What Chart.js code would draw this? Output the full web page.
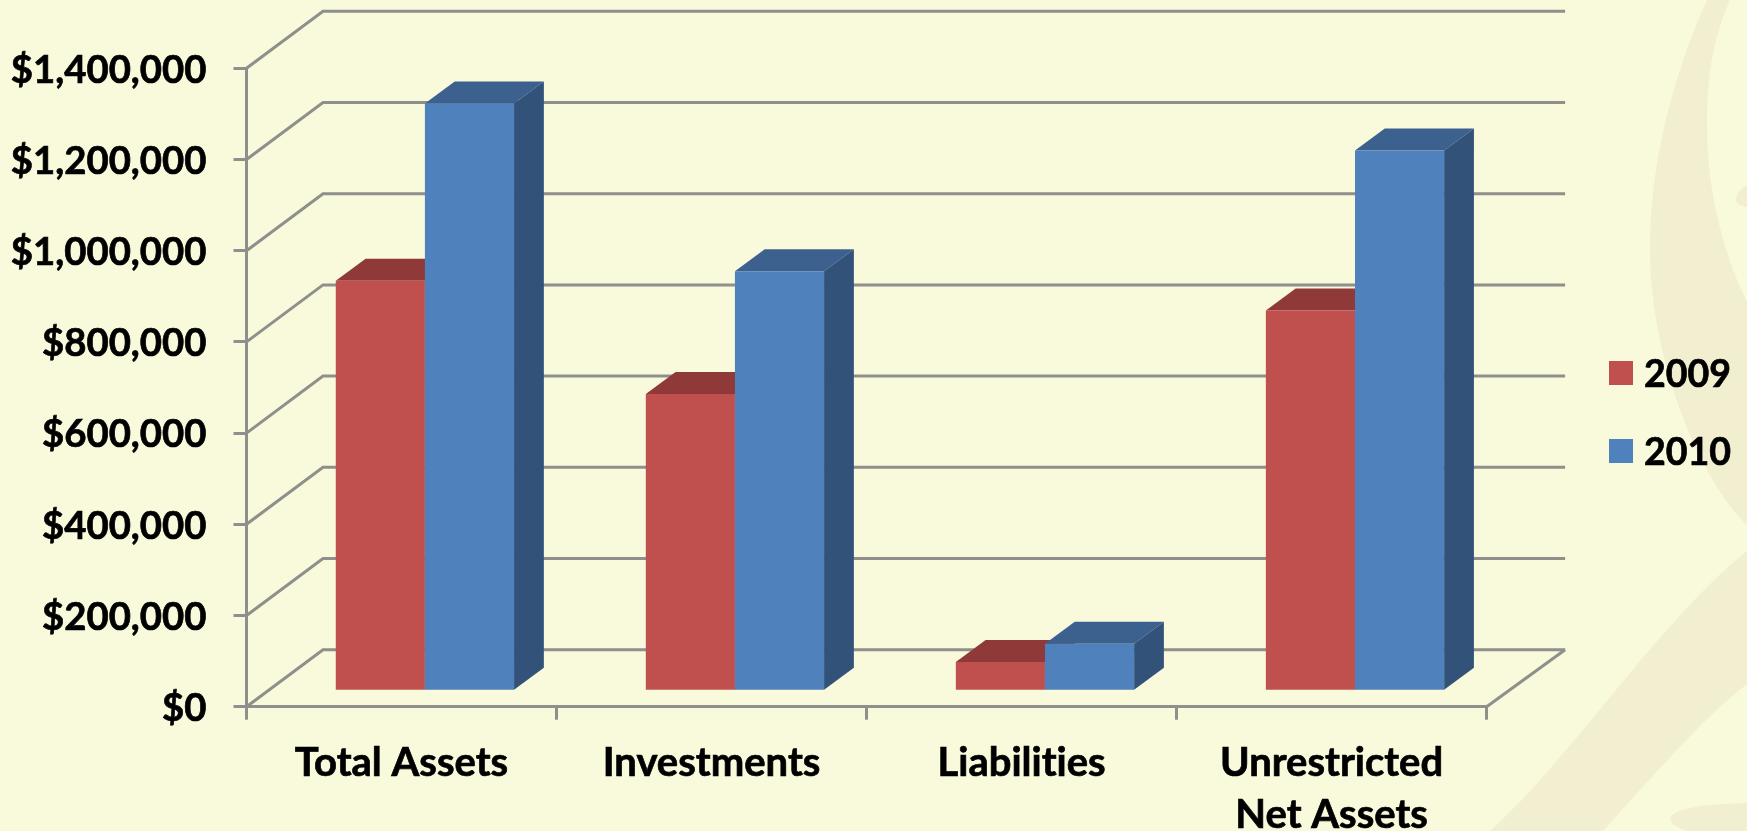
<!DOCTYPE html>
<html>
<head>
<meta charset="utf-8">
<title>Total Assets 2009 / 2010</title>
<script src="https://cdn.jsdelivr.net/npm/chart.js@4/dist/chart.umd.min.js"></script>
<style>
  html, body { margin: 0; padding: 0; background: #F9F9DC; overflow: hidden; }
  #wrap { width: 1747px; height: 831px; }
</style>
</head>
<body>
<div id="wrap"><canvas id="chart" width="1747" height="831"></canvas></div>
<script>
// Values
const categories = ['Total Assets', 'Investments', 'Liabilities', ['Unrestricted', 'Net Assets']];
const seriesNames = ['2009', '2010'];
const values2009 = [900000, 652000, 64000, 835000];
const values2010 = [1289000, 921000, 104000, 1186000];

const GREY = '#8F8F8B';

// colours for the fake 3D faces
const RED = { front: '#C0504D', top: '#8F3A38', side: '#7F3230' };
const BLUE = { front: '#4F81BD', top: '#3C618F', side: '#325279' };

// depth of the floor and of the bars
const wallDx = 76.5, wallDy = -57;
const barDx = 29.8, barDy = -22;
// bars sit a bit inside the floor
const barOffX = 23.4, barOffY = -15.5;

// faint swirl of the slide background
const backgroundPlugin = {
    id: 'slideBackground',
    beforeDraw(chart) {
        const ctx = chart.ctx;
        // a tiny spacing keeps Lato from joining "ti" into a ligature
        ctx.letterSpacing = '0.01px';
        ctx.save();
        ctx.fillStyle = '#F9F9DC';
        ctx.fillRect(0, 0, chart.width, chart.height);
        ctx.fillStyle = '#F2EFD0';

        ctx.beginPath();
        ctx.moveTo(1707, 0);
        ctx.bezierCurveTo(1680, 60, 1650, 150, 1650, 249);
        ctx.bezierCurveTo(1650, 360, 1700, 480, 1747, 525);
        ctx.lineTo(1747, 302);
        ctx.bezierCurveTo(1722, 250, 1707, 190, 1707, 122);
        ctx.bezierCurveTo(1707, 80, 1712, 40, 1730, 0);
        ctx.closePath();
        ctx.fill();

        ctx.beginPath();
        ctx.moveTo(1747, 551);
        ctx.bezierCurveTo(1660, 620, 1570, 760, 1490, 831);
        ctx.lineTo(1603, 831);
        ctx.bezierCurveTo(1650, 780, 1700, 720, 1747, 684);
        ctx.closePath();
        ctx.fill();

        ctx.beginPath();
        ctx.moveTo(1747, 803);
        ctx.bezierCurveTo(1710, 804, 1670, 808, 1670, 819);
        ctx.quadraticCurveTo(1672, 826, 1687, 831);
        ctx.lineTo(1747, 831);
        ctx.closePath();
        ctx.fill();

        ctx.beginPath();
        ctx.moveTo(1747, 185);
        ctx.quadraticCurveTo(1736, 192, 1736, 201);
        ctx.quadraticCurveTo(1738, 206, 1747, 207);
        ctx.closePath();
        ctx.fill();
        ctx.restore();
    }
};

// top and right faces of one dataset's bars
function drawBarFaces(ctx, meta, faces) {
    meta.data.forEach(function(bar) {
        const l = bar.x - bar.width / 2, r = bar.x + bar.width / 2;
        // top face
        ctx.fillStyle = faces.top;
        ctx.beginPath();
        ctx.moveTo(l, bar.y);
        ctx.lineTo(l + barDx, bar.y + barDy);
        ctx.lineTo(r + barDx, bar.y + barDy);
        ctx.lineTo(r, bar.y);
        ctx.closePath();
        ctx.fill();
        // right face
        ctx.fillStyle = faces.side;
        ctx.beginPath();
        ctx.moveTo(r, bar.y);
        ctx.lineTo(r + barDx, bar.y + barDy);
        ctx.lineTo(r + barDx, bar.base + barDy);
        ctx.lineTo(r, bar.base);
        ctx.closePath();
        ctx.fill();
    });
}

// side walls, back wall lines and the bar depth faces
const depthPlugin = {
    id: 'depth',
    beforeDatasetsDraw(chart) {
        const ctx = chart.ctx;
        const y = chart.scales.y;
        const left = chart.chartArea.left, right = chart.chartArea.right;
        ctx.save();
        ctx.strokeStyle = GREY;
        ctx.lineWidth = 3;
        y.ticks.forEach(function(t) {
            const py = y.getPixelForValue(t.value);
            ctx.beginPath();
            ctx.moveTo(left, py);
            ctx.lineTo(left + wallDx, py + wallDy);
            ctx.lineTo(right + wallDx + 2, py + wallDy);
            ctx.stroke();
        });
        const py0 = y.getPixelForValue(0);
        ctx.beginPath();
        ctx.moveTo(right, py0);
        ctx.lineTo(right + wallDx + 2, py0 + wallDy);
        ctx.stroke();
        ctx.restore();

        ctx.save();
        ctx.translate(barOffX, barOffY);
    },
    beforeDatasetDraw(chart, args) {
        // chart.js paints the first dataset last, but 2010 must cover 2009
        if (args.index === 1) return false;
        drawBarFaces(chart.ctx, args.meta, RED);
    },
    afterDatasetsDraw(chart) {
        const meta = chart.getDatasetMeta(1);
        drawBarFaces(chart.ctx, meta, BLUE);
        meta.controller.draw();
        chart.ctx.restore();
    }
};

// legend sits outside the plot, on the right
const legendPlugin = {
    id: 'sideLegend',
    afterDraw(chart) {
        const ctx = chart.ctx;
        ctx.save();
        ctx.font = 'bold 37.5px Lato';
        ctx.textBaseline = 'middle';
        ctx.lineWidth = 0.7;
        ctx.strokeStyle = '#000000';
        chart.data.datasets.forEach(function(ds, i) {
            const cy = 373 + i * 78;
            ctx.fillStyle = ds.backgroundColor;
            ctx.fillRect(1609, cy - 12, 24, 24);
            ctx.fillStyle = '#000000';
            ctx.fillText(ds.label, 1644, cy + 2);
            ctx.strokeText(ds.label, 1644, cy + 2);
        });
        ctx.restore();
    }
};

Chart.defaults.font.family = 'Lato';

new Chart(document.getElementById('chart'), {
    type: 'bar',
    data: {
        labels: categories,
        datasets: [
            { label: seriesNames[0], data: values2009, backgroundColor: RED.front, clip: false },
            { label: seriesNames[1], data: values2010, backgroundColor: BLUE.front, clip: false }
        ]
    },
    options: {
        responsive: false,
        animation: false,
        layout: { padding: { top: 68.3, right: 260.4, left: 0, bottom: 0 } },
        datasets: { bar: { categoryPercentage: 0.575, barPercentage: 1 } },
        plugins: { legend: { display: false }, tooltip: { enabled: false } },
        scales: {
            x: {
                afterFit(scale) { scale.height = 124.3; },
                grid: { offset: true, drawOnChartArea: false, color: GREY, lineWidth: 3, tickLength: 13 },
                border: { color: GREY, width: 3 },
                ticks: {
                    color: '#000000',
                    font: { size: 40, weight: 'bold', lineHeight: 1.3 },
                    textStrokeColor: '#000000',
                    textStrokeWidth: 0.7,
                    padding: 17,
                    maxRotation: 0,
                    autoSkip: false
                }
            },
            y: {
                min: 0,
                max: 1400000,
                afterFit(scale) { scale.width = 246.5; },
                grid: { drawOnChartArea: false, color: GREY, lineWidth: 3, tickLength: 13 },
                border: { color: GREY, width: 3 },
                ticks: {
                    stepSize: 200000,
                    color: '#000000',
                    font: { size: 38.3, weight: 'bold' },
                    textStrokeColor: '#000000',
                    textStrokeWidth: 0.7,
                    padding: 27,
                    labelOffset: 2,
                    callback: function(v) { return '$' + v.toLocaleString('en-US'); }
                }
            }
        }
    },
    plugins: [backgroundPlugin, depthPlugin, legendPlugin]
});
</script>
</body>
</html>
